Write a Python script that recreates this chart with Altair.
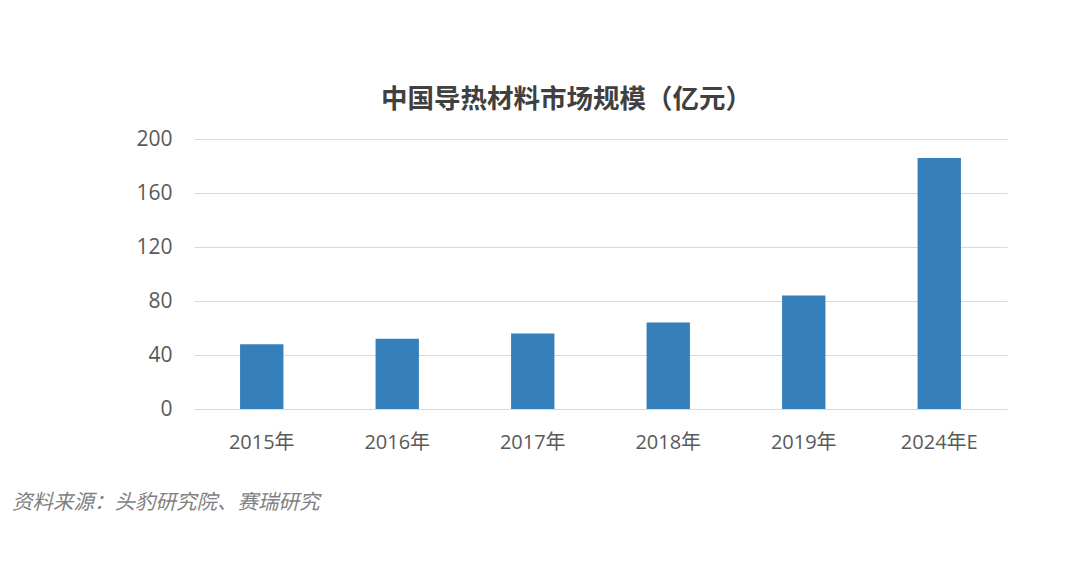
import altair as alt
import pandas as pd

categories = ["2015年", "2016年", "2017年", "2018年", "2019年", "2024年E"]
values = [48, 52, 56, 64, 84, 186]
title_text = "中国导热材料市场规模（亿元）"
source_text = "资料来源：头豹研究院、赛瑞研究"

df = pd.DataFrame({"cat": categories, "val": values})
FONT = "'Open Sans', 'Noto Sans CJK SC', sans-serif"

bars = alt.Chart(df).mark_bar(color="#3580BB").encode(
    x=alt.X("cat:N", sort=categories, title=None,
            scale=alt.Scale(paddingInner=0.68, paddingOuter=0.34),
            axis=alt.Axis(labelAngle=0, labelFontSize=20, labelColor="#595959",
                          labelFont=FONT, ticks=False, domain=False, labelPadding=23,
                          grid=False)),
    y=alt.Y("val:Q", title=None,
            scale=alt.Scale(domain=[0, 200], nice=False),
            axis=alt.Axis(values=[0, 40, 80, 120, 160, 200], labelFontSize=21,
                          labelColor="#595959", labelFont=FONT, ticks=False,
                          domain=False, labelPadding=22, gridColor="#d9d9d9")),
)

src = alt.Chart(pd.DataFrame({"t": [source_text]})).mark_text(
    align="left", baseline="middle", fontSize=20.5, fontStyle="italic",
    color="#7f7f7f", font="'Noto Sans CJK SC', sans-serif"
).encode(text="t:N", x=alt.value(-182), y=alt.value(364))

chart = (bars + src).properties(
    width=813, height=270,
    title=alt.Title(title_text, fontSize=26.5, fontWeight="bold", color="#404040",
                    font="'Noto Sans CJK SC', sans-serif", anchor="middle",
                    dx=-34, offset=15),
    autosize=alt.AutoSizeParams(type="none"),
    padding={"left": 186, "top": 131, "right": 65, "bottom": 150},
).configure(background="white").configure_view(stroke=None, strokeWidth=0)

chart.save("out.html", embed_options={"renderer": "svg", "actions": False})
